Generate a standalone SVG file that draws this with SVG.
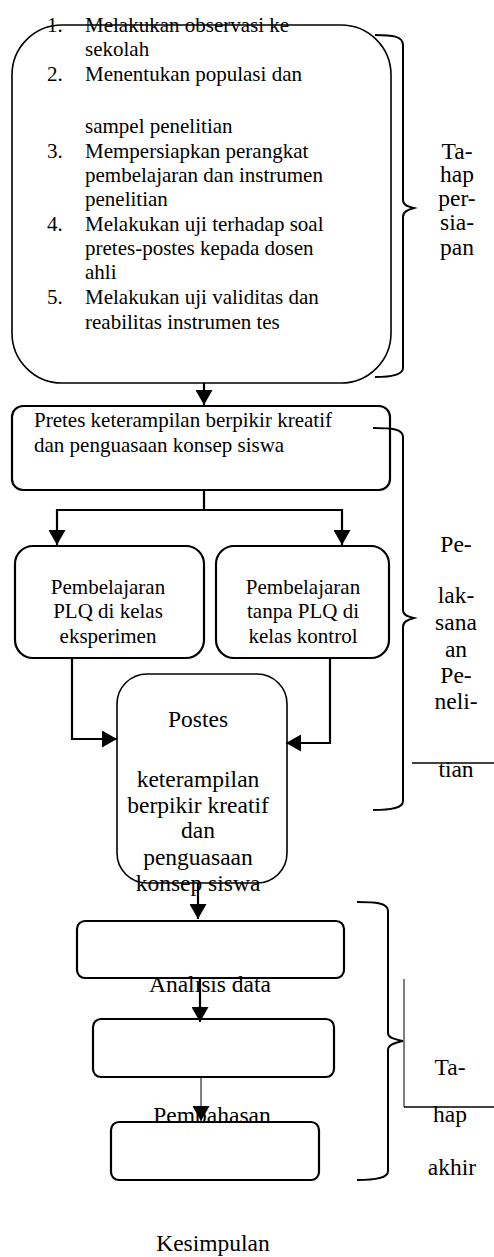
<svg xmlns="http://www.w3.org/2000/svg" width="494" height="1257" viewBox="0 0 494 1257">
<style>
text{font-family:"Liberation Serif","Times New Roman",serif;fill:#000}
.s{font-size:21px}
.l{font-size:23.5px}
.c{text-anchor:middle}
.box{fill:#fff;stroke:#000;stroke-width:2.2}
.thin{stroke-width:1.6}
.con{fill:none;stroke:#000;stroke-width:2.2}
.brace{fill:none;stroke:#000;stroke-width:2}
.rule{fill:none;stroke:#000;stroke-width:1.6}
</style>
<defs>
<marker id="ah" viewBox="0 0 15 17" refX="15" refY="8.5" markerWidth="15" markerHeight="17" markerUnits="userSpaceOnUse" orient="auto">
<path d="M0,0 L15,8.5 L0,17 z" fill="#000"/>
</marker>
</defs>
<g id="node-persiapan">
<rect class="box thin" x="12" y="25" width="379" height="358" rx="50" ry="50"/>
<g class="s">
<text x="47" y="32">1.</text><text x="85" y="32">Melakukan observasi ke</text>
<text x="85" y="56">sekolah</text>
<text x="47" y="81">2.</text><text x="85" y="81">Menentukan populasi dan</text>
<text x="85" y="133">sampel penelitian</text>
<text x="47" y="158">3.</text><text x="85" y="158">Mempersiapkan perangkat</text>
<text x="85" y="182">pembelajaran dan instrumen</text>
<text x="85" y="206">penelitian</text>
<text x="47" y="231">4.</text><text x="85" y="231">Melakukan uji terhadap soal</text>
<text x="85" y="255">pretes-postes kepada dosen</text>
<text x="85" y="279">ahli</text>
<text x="47" y="304">5.</text><text x="85" y="304">Melakukan uji validitas dan</text>
<text x="85" y="329">reabilitas instrumen tes</text>
</g>
</g>
<g id="node-pretes">
<rect class="box" x="12" y="406" width="378" height="84" rx="11" ry="11"/>
<text class="s" x="34" y="427">Pretes keterampilan berpikir kreatif</text>
<text class="s" x="34" y="452">dan penguasaan konsep siswa</text>
</g>
<g id="node-eksperimen">
<rect class="box" x="15" y="546" width="189" height="112" rx="18" ry="18"/>
<text class="s c" x="108" y="594">Pembelajaran</text>
<text class="s c" x="108" y="618">PLQ di kelas</text>
<text class="s c" x="108" y="643">eksperimen</text>
</g>
<g id="node-kontrol">
<rect class="box" x="216" y="546" width="173" height="112" rx="18" ry="18"/>
<text class="s c" x="303" y="594">Pembelajaran</text>
<text class="s c" x="303" y="618">tanpa PLQ di</text>
<text class="s c" x="303" y="643">kelas kontrol</text>
</g>
<g id="node-postes">
<rect class="box thin" x="117" y="674" width="170" height="209" rx="30" ry="30"/>
<g class="l c">
<text x="198" y="727">Postes</text>
<text x="198" y="787">keterampilan</text>
<text x="198" y="813">berpikir kreatif</text>
<text x="198" y="838">dan</text>
<text x="198" y="865">penguasaan</text>
<text x="198" y="891">konsep siswa</text>
</g>
</g>
<g id="node-analisis">
<rect class="box" x="77" y="921" width="267" height="57" rx="8" ry="8"/>
<text class="l c" x="210" y="992">Analisis data</text>
</g>
<g id="node-pembahasan">
<rect class="box" x="93" y="1019" width="241" height="58" rx="8" ry="8"/>
<text class="l c" x="212" y="1123">Pembahasan</text>
</g>
<g id="node-kesimpulan">
<rect class="box" x="111" y="1122" width="208" height="58" rx="8" ry="8"/>
<text class="l c" x="213" y="1251">Kesimpulan</text>
</g>
<g id="connectors">
<path class="con" d="M204,383 L204,405" marker-end="url(#ah)"/>
<path class="con" d="M204,490 L204,510"/>
<path class="con" d="M57,510 L342,510"/>
<path class="con" d="M57,509 L57,545" marker-end="url(#ah)"/>
<path class="con" d="M342,509 L342,545" marker-end="url(#ah)"/>
<path class="con" d="M72,658 L72,739 L117,739" marker-end="url(#ah)"/>
<path class="con" d="M330,658 L330,743 L286,743" marker-end="url(#ah)"/>
<path class="con" d="M198,883 L198,919" marker-end="url(#ah)"/>
<path class="con" d="M200,978 L200,1022" marker-end="url(#ah)"/>
<path class="con" d="M201,1077 L201,1121" style="stroke-width:1" marker-end="url(#ah)"/>
</g>
<g id="brace-persiapan">
<path class="brace" d="M375,35 C392,35 403,36 403,45 L403,200 C403,205 407,206 414,208 C407,210 403,212 403,217 L403,368 C403,375 392,377 375,377"/>
<g class="l c">
<text x="457" y="159">Ta-</text>
<text x="457" y="182">hap</text>
<text x="457" y="206">per-</text>
<text x="457" y="230">sia-</text>
<text x="457" y="255">pan</text>
</g>
</g>
<g id="brace-pelaksanaan">
<path class="brace" d="M373,428 C392,428 403,429 403,437 L403,610 C403,615 407,616 414,618 C407,620 403,622 403,627 L403,801 C403,808 392,810 373,810"/>
<g class="l c">
<text x="456" y="552">Pe-</text>
<text x="456" y="603">lak-</text>
<text x="456" y="630">sana</text>
<text x="456" y="657">an</text>
<text x="456" y="683">Pe-</text>
<text x="456" y="709">neli-</text>
<text x="456" y="777">tian</text>
</g>
<path class="rule" d="M412,763 L494,763"/>
</g>
<g id="brace-akhir">
<path class="brace" d="M357,902 C376,902 388,903 388,911 L388,1033 C388,1038 394,1039 403,1041 C394,1043 388,1045 388,1050 L388,1171 C388,1178 376,1180 357,1180"/>
<path class="rule" d="M404,979 L404,1107" style="stroke-width:1"/>
<path class="rule" d="M404,1107 L494,1107"/>
<g class="l c">
<text x="450" y="1075">Ta-</text>
<text x="450" y="1122">hap</text>
<text x="452" y="1175">akhir</text>
</g>
</g>
</svg>
